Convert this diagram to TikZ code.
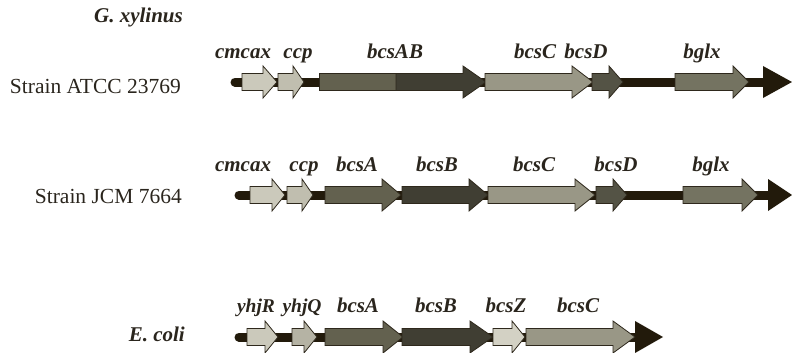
\documentclass[tikz,border=0pt]{standalone}
\usepackage{fontspec}
\setmainfont{Liberation Serif}
\usepackage{tikz}
\definecolor{spine}{HTML}{221A0B}
\definecolor{edge}{HTML}{2E281C}
\definecolor{ink}{HTML}{2A251D}
\definecolor{glight}{HTML}{CBC9BB}
\definecolor{gccp}{HTML}{C0BEAF}
\definecolor{gyhjq}{HTML}{B5B3A4}
\definecolor{gbcsa}{HTML}{63614F}
\definecolor{gbcsb}{HTML}{403E33}
\definecolor{gbcsc}{HTML}{999786}
\definecolor{gbcsd}{HTML}{545345}
\definecolor{gbglx}{HTML}{747361}
\definecolor{gbcsz}{HTML}{D3D1C4}
% gene arrow: start, head start, tip, row, colour
\newcommand{\genearrow}[5]{%
  \draw[genebox,fill=#5,shift={(0,#4)}] (#1,-8.5) -- (#2,-8.5) -- (#2,-16) -- (#3,0)
    -- (#2,16) -- (#2,8.5) -- (#1,8.5) -- cycle;}
\newcommand{\spinehead}[3]{%
  \fill[spine,shift={(0,#3)}] (#1,-16) -- (#2,0) -- (#1,16) -- cycle;}

\begin{document}
\begin{tikzpicture}[x=1pt,y=-1pt,
  genebox/.style={draw=edge,line width=0.8pt,line join=miter},
  backbone/.style={draw=spine,line width=9pt,line cap=round},
  genelabel/.style={anchor=base,font=\fontsize{21}{24}\selectfont\bfseries\itshape,text=ink,inner sep=0pt},
  strainlabel/.style={anchor=base east,font=\fontsize{21.5}{25}\selectfont,text=ink,inner sep=0pt}]
\useasboundingbox (0,0) rectangle (792,353);
% species and strains
\node[strainlabel,font=\fontsize{21}{24}\selectfont\bfseries\itshape] (gx) at (183,23) {G. xylinus};
\node[strainlabel] (atcc) at (181,93) {Strain ATCC 23769};
\node[strainlabel] (jcm) at (182,203) {Strain JCM 7664};
\node[strainlabel,font=\fontsize{21}{24}\selectfont\bfseries\itshape] (ecoli) at (185,341) {E. coli};
% backbones
\draw[backbone] (235,82) -- (770,82);
\draw[backbone] (239,195) -- (775,195);
\draw[backbone] (239,337) -- (640,337);
\spinehead{763}{792}{82}
\spinehead{768}{792}{195}
\spinehead{635}{663}{337}
% row 1: ATCC 23769
\genearrow{242}{263}{277}{82}{glight}
\genearrow{278}{293}{304}{82}{gccp}
\draw[genebox,fill=gbcsa] (319,73.5) rectangle (396,90.5);
\genearrow{396}{463}{486}{82}{gbcsb}
\genearrow{485}{572}{593}{82}{gbcsc}
\genearrow{592}{609}{623}{82}{gbcsd}
\genearrow{675}{733}{749}{82}{gbglx}
% row 2: JCM 7664
\genearrow{250}{272}{285}{195}{glight}
\genearrow{287}{302}{313}{195}{gccp}
\genearrow{325}{382}{401}{195}{gbcsa}
\genearrow{402}{469}{488}{195}{gbcsb}
\genearrow{488}{575}{595}{195}{gbcsc}
\genearrow{596}{613}{627}{195}{gbcsd}
\genearrow{683}{742}{758}{195}{gbglx}
% row 3: E. coli
\genearrow{247}{265}{278}{337}{glight}
\genearrow{292}{304}{317}{337}{gyhjq}
\genearrow{325}{383}{403}{337}{gbcsa}
\genearrow{402}{470}{493}{337}{gbcsb}
\genearrow{493}{512}{525}{337}{gbcsz}
\genearrow{526}{613}{635}{337}{gbcsc}
% gene names
\node[genelabel] (cmcax1) at (243,59) {cmcax};
\node[genelabel] (ccp1) at (298,59) {ccp};
\node[genelabel] (bcsab1) at (395,59) {bcsAB};
\node[genelabel] (bcsc1) at (535,59) {bcsC};
\node[genelabel] (bcsd1) at (586,59) {bcsD};
\node[genelabel] (bglx1) at (702,59) {bglx};
\node[genelabel] (cmcax2) at (243,171) {cmcax};
\node[genelabel] (ccp2) at (304,171) {ccp};
\node[genelabel] (bcsa2) at (357,171) {bcsA};
\node[genelabel] (bcsb2) at (437,171) {bcsB};
\node[genelabel] (bcsc2) at (534,171) {bcsC};
\node[genelabel] (bcsd2) at (616,171) {bcsD};
\node[genelabel] (bglx2) at (711,171) {bglx};
\node[genelabel,font=\fontsize{19.5}{23}\selectfont\bfseries\itshape] (yhjr3) at (256,312) {yhjR};
\node[genelabel,font=\fontsize{19.5}{23}\selectfont\bfseries\itshape] (yhjq3) at (302,312) {yhjQ};
\node[genelabel] (bcsa3) at (358,312) {bcsA};
\node[genelabel] (bcsb3) at (436,312) {bcsB};
\node[genelabel] (bcsz3) at (506,312) {bcsZ};
\node[genelabel] (bcsc3) at (578,312) {bcsC};
\end{tikzpicture}
\end{document}
